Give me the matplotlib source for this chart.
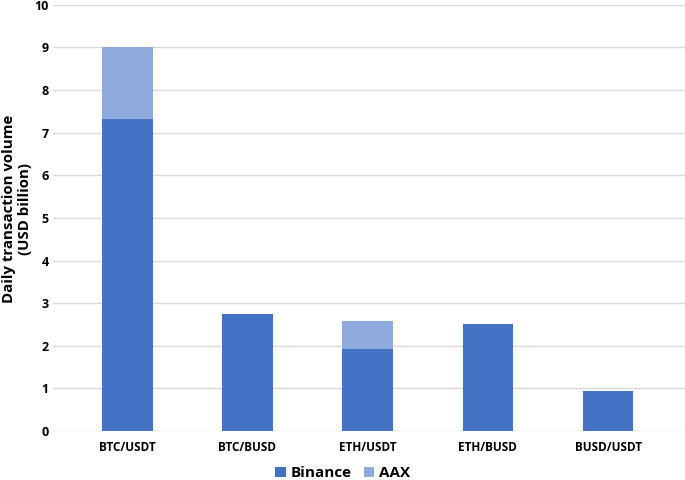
import numpy as np
import matplotlib.pyplot as plt

pares = ['BTC/USDT', 'BTC/BUSD', 'ETH/USDT', 'ETH/BUSD', 'BUSD/USDT']
binance = [7.32, 2.74, 1.92, 2.51, 0.93]
aax = [1.69, 0.0, 0.66, 0.0, 0.0]

plt.rcParams['font.family'] = ['Open Sans', 'DejaVu Sans']

fig = plt.figure(figsize=(6.85, 4.8), dpi=100)
ax = fig.add_axes([0.077, 0.102, 0.923, 0.888])

x = np.arange(len(pares))
ancho = 0.42
ax.bar(x, binance, ancho, color='#4472C4', label='Binance', zorder=3)
ax.bar(x, aax, ancho, bottom=binance, color='#8FAADC', label='AAX', zorder=3)

ax.set_ylim(0, 10)
ax.set_xlim(-0.62, 4.64)
ax.set_yticks(range(0, 11))
ax.set_xticks(x)
ax.set_xticklabels(pares, fontsize=8.5, fontweight='bold')
for lbl in ax.get_yticklabels():
    lbl.set_fontsize(9)
    lbl.set_fontweight('bold')
ax.tick_params(length=0, pad=3)
ax.tick_params(axis='x', pad=7)
ax.grid(axis='y', color='#d9d9d9', linewidth=1, zorder=0)
for s in ax.spines.values():
    s.set_visible(False)

# etiqueta del eje y colocada a mano en coordenadas de figura
fig.text(0.025, 0.565, 'Daily transaction volume\n(USD billion)', rotation=90,
         ha='center', va='center', fontsize=10.8, fontweight='bold',
         linespacing=1.2)

fig.legend(loc='center', bbox_to_anchor=(0.5, 0.014), ncol=2, frameon=False,
           prop={'weight': 'bold', 'size': 11}, handlelength=0.7,
           handleheight=0.7, columnspacing=0.8, handletextpad=0.3)

fig.savefig('out.png', dpi=100)
